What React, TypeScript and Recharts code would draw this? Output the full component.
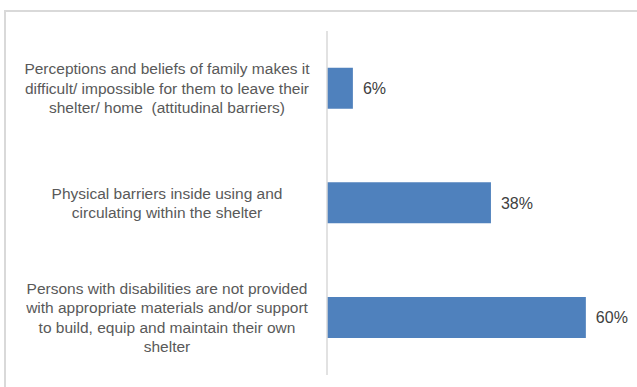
import React from 'react';
import { BarChart, Bar, XAxis, YAxis, LabelList } from 'recharts';

const categories: string[][] = [
  ['Perceptions and beliefs of family makes it', 'difficult/ impossible for them to leave their', 'shelter/ home  (attitudinal barriers)'],
  ['Physical barriers inside using and', 'circulating within the shelter'],
  ['Persons with disabilities are not provided', 'with appropriate materials and/or support', 'to build, equip and maintain their own', 'shelter'],
];
const values: number[] = [6, 38, 60];

const data = categories.map((lines, i) => ({
  name: lines.join(' '),
  lines,
  value: values[i],
}));

const CategoryTick = (props: any) => {
  const { x, y, index } = props;
  const lines = categories[index] || [];
  const lineH = 19.3;
  const startY = y - ((lines.length - 1) * lineH) / 2;
  const cx = x - 152;
  return (
    <text
      x={cx}
      y={startY}
      textAnchor="middle"
      fill="#595959"
      fontSize={15.5}
      fontFamily="'Liberation Sans', Arial, sans-serif"
    >
      {lines.map((l, i) => (
        <tspan key={i} x={cx} y={startY + i * lineH} dy="0.35em" style={{ whiteSpace: 'pre' }}>
          {l}
        </tspan>
      ))}
    </text>
  );
};

const App: React.FC = () => {
  return (
    <div style={{ position: 'absolute', left: 0, top: 0, width: 637, height: 387, overflow: 'hidden', background: '#fff' }}>
      <div
        style={{
          position: 'absolute',
          left: 4,
          top: 10,
          width: 700,
          height: 500,
          borderTop: '2px solid #d9d9d9',
          borderLeft: '2px solid #d9d9d9',
        }}
      />
      <div style={{ position: 'absolute', left: 0, top: 0 }}>
        <BarChart
          width={637}
          height={387}
          data={data}
          layout="vertical"
          margin={{ top: 31, right: 8, bottom: 12, left: 0 }}
          barCategoryGap="32%"
        >
          <XAxis type="number" domain={[0, 70]} hide />
          <YAxis
            type="category"
            dataKey="name"
            width={327}
            axisLine={{ stroke: '#d9d9d9', strokeWidth: 1.5 }}
            tickLine={false}
            tick={<CategoryTick />}
            interval={0}
          />
          <Bar dataKey="value" fill="#4f81bd" isAnimationActive={false}>
            <LabelList
              dataKey="value"
              position="right"
              offset={10}
              formatter={(v: any) => `${v}%`}
              fill="#404040"
              fontSize={16}
              fontFamily="'Liberation Sans', Arial, sans-serif"
            />
          </Bar>
        </BarChart>
      </div>
    </div>
  );
};

export default App;
